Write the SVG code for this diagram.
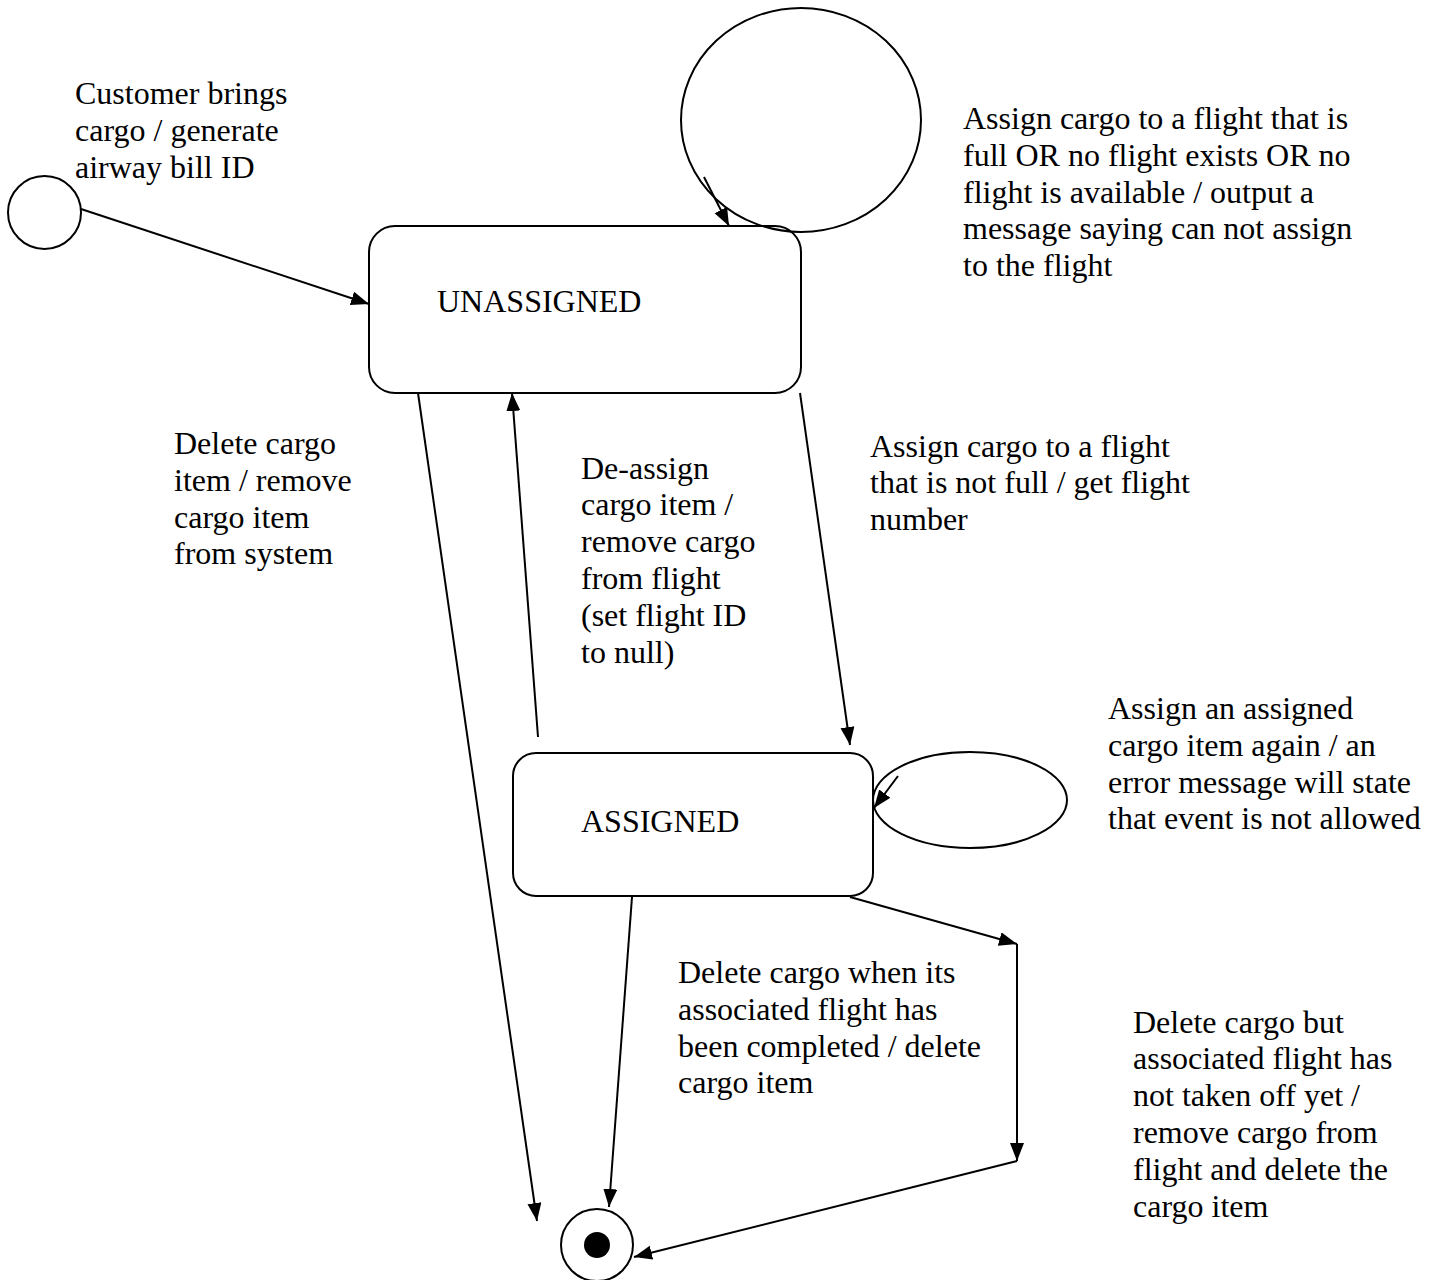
<svg xmlns="http://www.w3.org/2000/svg" width="1435" height="1280" viewBox="0 0 1435 1280">
<style>
.s{fill:none;stroke:#000;stroke-width:2}
.t{font-family:"Liberation Serif","Times New Roman",serif;font-size:32px;fill:#000}
.c{stroke:#000;stroke-width:2;fill:none;marker-end:url(#ah)}
</style>
<defs>
<marker id="ah" markerUnits="userSpaceOnUse" markerWidth="20" markerHeight="16" refX="18" refY="7" orient="auto">
<path d="M0,0 L18,7 L0,14 z" fill="#000"/>
</marker>
</defs>
<rect width="1435" height="1280" fill="#fff"/>
<g id="start"><circle class="s" cx="44.5" cy="212.5" r="36.5"/></g>
<g id="unassigned">
<rect class="s" x="369" y="226" width="432" height="167" rx="26"/>
<text class="t" x="437" y="312" font-size="31.5">UNASSIGNED</text>
</g>
<g id="assigned">
<rect class="s" x="513" y="753" width="360" height="143" rx="23"/>
<text class="t" x="581" y="832" font-size="31.5">ASSIGNED</text>
</g>
<g id="final">
<circle class="s" cx="597" cy="1245" r="36"/>
<circle cx="597" cy="1245" r="13" fill="#000"/>
</g>
<g id="connectors">
<line class="c" x1="81" y1="209" x2="369" y2="304"/>
<ellipse class="s" cx="801" cy="120" rx="120" ry="112"/>
<line class="c" x1="704" y1="177" x2="729" y2="226"/>
<line class="c" x1="418" y1="393" x2="537" y2="1221"/>
<line class="c" x1="800" y1="393" x2="850" y2="745"/>
<line class="c" x1="538" y1="737" x2="512" y2="393"/>
<ellipse class="s" cx="970" cy="800" rx="97" ry="48"/>
<line class="c" x1="898" y1="776" x2="874" y2="808"/>
<line class="c" x1="632" y1="897" x2="609" y2="1207"/>
<line class="c" x1="850" y1="897" x2="1017" y2="944"/>
<line class="c" x1="1017" y1="944" x2="1017" y2="1161"/>
<line class="c" x1="1017" y1="1161" x2="634" y2="1257"/>
</g>
<g id="labels">
<text class="t" x="75" y="104"><tspan x="75">Customer brings</tspan><tspan x="75" dy="36.8">cargo / generate</tspan><tspan x="75" dy="36.8">airway bill ID</tspan></text>
<text class="t" x="963" y="129"><tspan x="963">Assign cargo to a flight that is</tspan><tspan x="963" dy="36.8">full OR no flight exists OR no</tspan><tspan x="963" dy="36.8">flight is available / output a</tspan><tspan x="963" dy="36.8">message saying can not assign</tspan><tspan x="963" dy="36.8">to the flight</tspan></text>
<text class="t" x="174" y="454"><tspan x="174">Delete cargo</tspan><tspan x="174" dy="36.8">item / remove</tspan><tspan x="174" dy="36.8">cargo item</tspan><tspan x="174" dy="36.8">from system</tspan></text>
<text class="t" x="581" y="478.5"><tspan x="581">De-assign</tspan><tspan x="581" dy="36.8">cargo item /</tspan><tspan x="581" dy="36.8">remove cargo</tspan><tspan x="581" dy="36.8">from flight</tspan><tspan x="581" dy="36.8">(set flight ID</tspan><tspan x="581" dy="36.8">to null)</tspan></text>
<text class="t" x="870" y="456.5"><tspan x="870">Assign cargo to a flight</tspan><tspan x="870" dy="36.8">that is not full / get flight</tspan><tspan x="870" dy="36.8">number</tspan></text>
<text class="t" x="1108" y="719"><tspan x="1108">Assign an assigned</tspan><tspan x="1108" dy="36.8">cargo item again / an</tspan><tspan x="1108" dy="36.8">error message will state</tspan><tspan x="1108" dy="36.8">that event is not allowed</tspan></text>
<text class="t" x="678" y="983"><tspan x="678">Delete cargo when its</tspan><tspan x="678" dy="36.8">associated flight has</tspan><tspan x="678" dy="36.8">been completed / delete</tspan><tspan x="678" dy="36.8">cargo item</tspan></text>
<text class="t" x="1133" y="1032.5"><tspan x="1133">Delete cargo but</tspan><tspan x="1133" dy="36.8">associated flight has</tspan><tspan x="1133" dy="36.8">not taken off yet /</tspan><tspan x="1133" dy="36.8">remove cargo from</tspan><tspan x="1133" dy="36.8">flight and delete the</tspan><tspan x="1133" dy="36.8">cargo item</tspan></text>
</g>
</svg>
